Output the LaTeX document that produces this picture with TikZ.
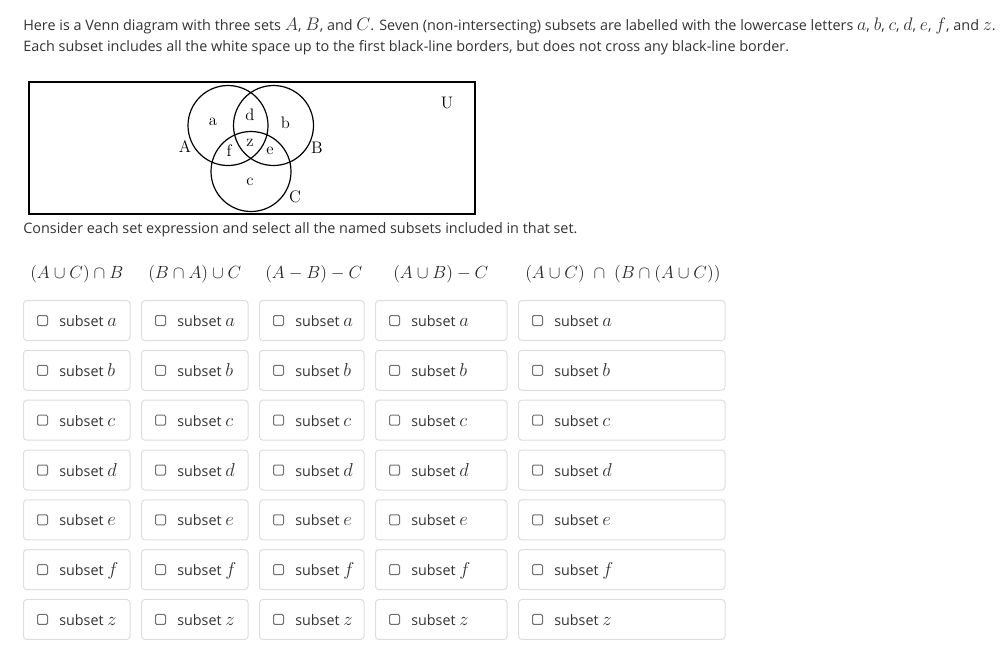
\RequirePackage{fix-cm}
\documentclass[tikz,border=0pt]{standalone}
\usepackage{fontspec}
\newfontfamily\osans{Open Sans}
\definecolor{txtgray}{HTML}{333333}
\definecolor{cellline}{HTML}{DDDDDD}
\definecolor{chkline}{HTML}{707070}
\newcommand\mth[2][13.6]{{\fontsize{#1}{#1}\selectfont$#2$}}
\tikzset{
  txt/.style={font=\osans\fontsize{10.8}{12}\selectfont, text=txtgray, inner sep=0pt, anchor=base west},
  hdr/.style={font=\fontsize{13.2}{16}\selectfont, text=black!85, inner sep=0pt, anchor=base west},
  cell/.style={draw=cellline, line width=0.75pt, rounded corners=2.5pt, anchor=north west, inner sep=0pt, minimum height=30pt},
  chk/.style={draw=chkline, line width=0.75pt, rounded corners=1pt, minimum size=7.5pt, inner sep=0pt},
  lbl/.style={font=\osans\fontsize{10.75}{12}\selectfont, text=txtgray, inner sep=0pt, anchor=base west},
  vlbl/.style={font=\fontsize{12.5}{14}\selectfont, inner sep=0pt},
  vcirc/.style={line width=0.9pt},
}
\begin{document}
\begin{tikzpicture}[x=0.75pt,y=-0.75pt]
\useasboundingbox (0,0) rectangle (1002,647);
% intro text
\node[txt] (intro1) at (23,30.5) {Here is a Venn diagram with three sets \mth{A}, \mth{B}, and \mth{C}. Seven (non-intersecting) subsets are labelled with the lowercase letters \mth{a}, \mth{b}, \mth{c}, \mth{d}, \mth{e}, \mth{f}, and \mth{z}.};
\node[txt] (intro2) at (23,51) {Each subset includes all the white space up to the first black-line borders, but does not cross any black-line border.};
% Venn diagram
\node[draw, line width=1.3pt, anchor=north west, minimum width=334.5pt, minimum height=99pt, inner sep=0pt] (universe) at (28,81) {};
\draw[vcirc] (228,125.5) circle[radius=30pt];
\draw[vcirc] (273.5,125.5) circle[radius=30pt];
\draw[vcirc] (251,171.5) circle[radius=30pt];
\node[vlbl] (la) at (213,122) {a};
\node[vlbl] (ld) at (250,115) {d};
\node[vlbl] (lb) at (285.5,123) {b};
\node[vlbl] (lA) at (185,147) {A};
\node[vlbl] (lf) at (229,151) {f};
\node[vlbl] (lz) at (250,142.5) {z};
\node[vlbl] (le) at (270,151) {e};
\node[vlbl] (lB) at (317,147.5) {B};
\node[vlbl] (lc) at (250,181.5) {c};
\node[vlbl] (lC) at (295,196.5) {C};
\node[vlbl] (lU) at (447,103) {U};
\node[txt] (consider) at (23,233) {Consider each set expression and select all the named subsets included in that set.};
% headers
\node[hdr] (h1) at (30,278) {$(A\cup C)\cap B$};
\node[hdr] (h2) at (148,278) {$(B\cap A)\cup C$};
\node[hdr] (h3) at (265,278) {$(A-B)-C$};
\node[hdr] (h4) at (393,278) {$(A\cup B)-C$};
\node[hdr] (h5) at (525,278) {$(A\cup C)\;\cap\;(B\cap(A\cup C))$};
% answer cells
\foreach \col/\lx/\rx in {1/23/129.5, 2/141/247.5, 3/259/363.5, 4/375/506.5, 5/518/724.5} {
  \foreach \row/\ltr in {1/a,2/b,3/c,4/d,5/e,6/f,7/z} {
    \pgfmathsetmacro\celltop{300+49.83*(\row-1)}
    \pgfmathsetmacro\cellwd{(\rx-\lx)*0.75}
    \node[cell, minimum width=\cellwd pt] (cell-\col-\row) at (\lx,\celltop) {};
    \node[chk] (chk-\col-\row) at (\lx+19.5,\celltop+20.5) {};
    \node[lbl] (lbl-\col-\row) at (\lx+36,\celltop+26.5) {subset \mth[14]{\ltr}};
  }
}
\end{tikzpicture}
\end{document}
